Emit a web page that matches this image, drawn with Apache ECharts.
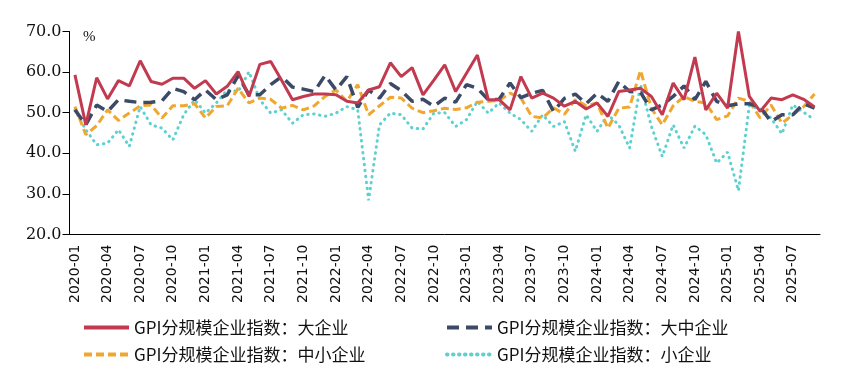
<!DOCTYPE html>
<html>
<head>
<meta charset="utf-8">
<script src="https://cdn.jsdelivr.net/npm/echarts@6/dist/echarts.min.js"></script>
<style>
  html, body { margin: 0; padding: 0; background: #fff; }
  #chart { width: 851px; height: 377px; }
</style>
</head>
<body>
<div id="chart"></div>
<script>
// GPI分规模企业指数，月度，2020-01 ~ 2025-09
const months = [];
for (let y = 2020; y <= 2025; y++) {
    for (let m = 1; m <= 12; m++) {
        if (y === 2025 && m > 9) break;
        months.push(y + '-' + (m < 10 ? '0' + m : m));
    }
}

// 大企业
const bigCorp = [
    59.3, 47.0, 58.6, 53.4, 57.9, 56.6, 62.8, 57.7, 57.0, 58.5, 58.5, 56.0,
    57.9, 54.6, 56.5, 60.1, 54.0, 61.9, 62.6, 58.0, 53.2, 54.0, 54.6, 54.6,
    54.4, 52.8, 52.4, 55.6, 56.4, 62.3, 58.9, 61.1, 54.4, 58.0, 61.8, 55.2,
    59.7, 64.2, 53.2, 53.2, 50.7, 58.9, 53.6, 54.8, 53.6, 51.6, 52.8, 50.9,
    52.4, 49.1, 55.2, 55.6, 56.0, 54.0, 49.5, 57.3, 53.2, 63.7, 50.7, 54.8,
    51.1, 70.0, 54.0, 50.3, 53.6, 53.2, 54.4, 53.3, 51.4
];
// 大中企业
const bigMidCorp = [
    50.7, 47.0, 51.9, 50.3, 53.2, 52.8, 52.5, 52.6, 52.9, 56.0, 55.2, 53.2,
    55.6, 53.2, 54.4, 59.1, 54.4, 54.4, 56.9, 58.9, 56.3, 55.8, 55.2, 59.2,
    55.6, 58.9, 51.3, 55.6, 53.6, 57.2, 55.4, 52.8, 53.3, 51.6, 53.6, 52.6,
    56.9, 56.0, 53.2, 53.3, 57.3, 53.7, 54.8, 55.5, 50.3, 53.5, 54.6, 52.2,
    54.8, 52.8, 57.7, 55.2, 55.0, 50.7, 51.9, 54.0, 56.6, 53.2, 57.7, 52.8,
    51.7, 52.2, 52.2, 51.4, 47.8, 49.5, 49.5, 52.2, 51.1
];
// 中小企业
const midSmallCorp = [
    51.5, 44.6, 46.8, 50.7, 48.1, 49.9, 51.7, 51.9, 48.7, 51.7, 51.7, 52.2,
    48.7, 51.5, 51.7, 56.0, 52.4, 53.6, 53.3, 51.1, 51.8, 50.7, 51.7, 54.0,
    55.6, 52.8, 56.9, 49.5, 51.7, 53.8, 53.6, 51.1, 50.0, 50.5, 51.1, 50.8,
    51.2, 52.6, 52.8, 53.0, 54.8, 53.6, 49.1, 48.7, 51.2, 49.6, 53.2, 51.7,
    52.4, 46.2, 51.1, 51.4, 60.4, 51.1, 47.0, 51.7, 54.0, 52.8, 52.4, 48.3,
    49.2, 53.6, 52.8, 48.7, 51.9, 47.4, 49.5, 51.5, 54.6
];
// 小企业
const smallCorp = [
    50.7, 45.8, 42.1, 42.5, 45.8, 41.7, 51.5, 47.0, 46.2, 43.3, 49.5, 53.2,
    49.9, 52.4, 55.6, 55.2, 60.1, 53.2, 49.9, 50.7, 47.4, 49.5, 49.7, 49.1,
    49.9, 51.5, 50.7, 28.4, 47.0, 49.9, 49.5, 46.2, 46.0, 49.9, 50.0, 46.6,
    48.3, 52.8, 49.9, 52.4, 49.9, 48.3, 45.4, 49.5, 46.6, 47.8, 40.5, 49.5,
    45.4, 49.5, 47.0, 41.3, 56.9, 46.6, 39.2, 47.0, 41.3, 46.7, 44.6, 37.6,
    40.3, 30.8, 51.7, 50.9, 48.7, 44.8, 51.9, 50.1, 48.3
];

const names = [
    'GPI分规模企业指数：大企业',
    'GPI分规模企业指数：大中企业',
    'GPI分规模企业指数：中小企业',
    'GPI分规模企业指数：小企业'
];

const chart = echarts.init(document.getElementById('chart'));

const legendText = {
    color: '#111',
    fontSize: 17,
    fontFamily: 'Noto Sans CJK SC'
};

function legendAt(name, left, top) {
    return {
        data: [name],
        left: left,
        top: top,
        itemWidth: 45,
        itemHeight: 12,
        itemGap: 4,
        padding: 0,
        itemStyle: { opacity: 0 },
        lineStyle: { width: 4 },
        textStyle: legendText
    };
}

function lineSeries(name, data, color, type, width, cap, z) {
    return {
        name: name,
        type: 'line',
        data: data,
        symbol: 'none',
        showSymbol: false,
        z: z,
        lineStyle: { color: color, width: width, type: type, cap: cap },
        itemStyle: { color: color }
    };
}

const option = {
    animation: false,
    backgroundColor: '#fff',
    grid: { left: 69.5, right: 31, top: 31.5, bottom: 142.5 },
    legend: [
        legendAt(names[0], 82, 319),
        legendAt(names[1], 445, 319),
        legendAt(names[2], 82, 346),
        legendAt(names[3], 445, 346)
    ],
    graphic: [{
        type: 'text',
        left: 83,
        top: 30,
        style: { text: '%', fontSize: 15, fontFamily: 'Liberation Serif', fill: '#111' }
    }],
    xAxis: {
        type: 'category',
        data: months,
        boundaryGap: true,
        axisLine: { lineStyle: { color: '#000', width: 1 } },
        axisTick: { interval: 2, length: 6, lineStyle: { color: '#000' } },
        axisLabel: {
            interval: 2,
            rotate: 90,
            margin: 10,
            color: '#111',
            fontSize: 14,
            fontFamily: 'DejaVu Sans'
        },
        splitLine: { show: false }
    },
    yAxis: {
        type: 'value',
        min: 20,
        max: 70,
        interval: 10,
        axisLine: { show: true, lineStyle: { color: '#000', width: 1 } },
        axisTick: { show: true, length: 7, lineStyle: { color: '#000' } },
        axisLabel: {
            margin: 8,
            color: '#111',
            fontSize: 16,
            fontFamily: 'DejaVu Serif',
            formatter: v => v.toFixed(1)
        },
        splitLine: { show: false }
    },
    series: [
        lineSeries(names[0], bigCorp, '#c23a4f', 'solid', 3, 'butt', 5),
        lineSeries(names[1], bigMidCorp, '#3b4a66', [12, 7], 3.5, 'butt', 4),
        lineSeries(names[2], midSmallCorp, '#f0a730', [8, 4], 3, 'butt', 3),
        lineSeries(names[3], smallCorp, '#5dd0d0', [0.5, 5.5], 3, 'round', 2)
    ]
};

chart.setOption(option);
</script>
</body>
</html>
